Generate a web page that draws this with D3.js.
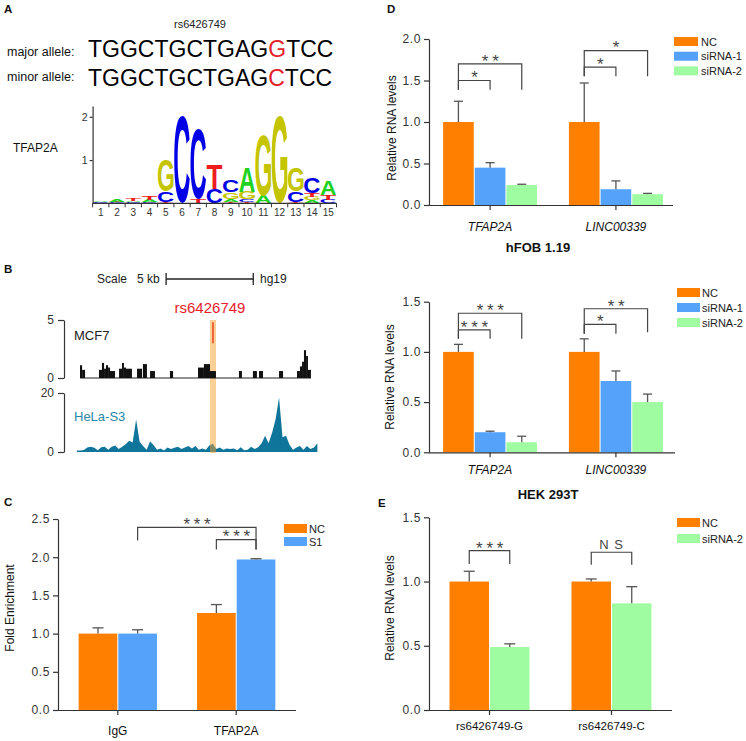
<!DOCTYPE html>
<html><head><meta charset="utf-8">
<script src="https://cdn.jsdelivr.net/npm/d3@7"></script>
<style>
body{margin:0;background:#fff}
svg{display:block}
text{font-family:"Liberation Sans",Arial,Helvetica,sans-serif}
</style>
</head><body>
<svg id="c" width="746" height="741"></svg>
<script>
// ================= DATA =================
// Panel A
const snpId = "rs6426749";
const alleleLabels = ["major allele:", "minor allele:"];
const alleleSeqs = ["TGGCTGCTGAGGTCC", "TGGCTGCTGAGCTCC"];
const snpIndex = 11;
const motifName = "TFAP2A";
const logoPositions = [1,2,3,4,5,6,7,8,9,10,11,12,13,14,15];
const logoTicks = [1, 2];
// stacked letters per column, bottom to top: [letter, bits]
const logoColumns = [
  [["G",0.01],["C",0.012],["A",0.012],["T",0.01]],
  [["C",0.02],["T",0.02],["A",0.045]],
  [["C",0.03],["A",0.03],["T",0.05]],
  [["C",0.02],["A",0.06],["T",0.08]],
  [["T",0.03],["C",0.25],["G",0.72]],
  [["C",2.0]],
  [["T",0.1],["C",1.62]],
  [["C",0.33],["T",0.57]],
  [["T",0.04],["A",0.05],["G",0.16],["C",0.26]],
  [["T",0.04],["C",0.06],["G",0.17],["A",0.57]],
  [["A",0.17],["G",1.4]],
  [["G",2.0]],
  [["T",0.02],["C",0.25],["G",0.54]],
  [["A",0.07],["G",0.08],["T",0.08],["C",0.35]],
  [["C",0.08],["T",0.12],["A",0.33]]
];
const letterColors = {A:"#1ed21e", C:"#0000e6", G:"#c4c400", T:"#ee1c1c"};

// Panel B (genomic positions in kb)
const scaleBarStartKb = 5.17, scaleBarKb = 5;
const snpKb = 7.86;
const mcf7Ticks = [0, 5];
const helaTicks = [0, 20];
// [startKb, endKb, signal]
const mcf7Segments = [
  [0.23,0.35,1.1],[0.35,0.52,0.7],
  [1.32,1.49,0.7],[1.49,1.61,1.3],[1.61,1.72,0.8],[1.72,1.84,1.1],[1.84,1.95,0.9],[1.95,2.24,0.6],
  [2.47,2.64,0.8],[2.64,2.75,1.3],[2.75,2.87,0.9],[2.87,3.21,0.8],
  [3.50,3.79,0.8],[3.84,4.07,1.2],
  [4.25,4.53,0.6],[5.39,5.57,0.6],
  [7.00,7.34,0.9],[7.34,7.69,1.2],[7.69,8.03,0.6],
  [9.35,9.52,0.6],[10.15,10.38,0.6],[10.50,10.73,0.6],[11.65,11.88,0.6],
  [12.68,12.85,0.6],[12.85,12.97,1.0],[12.97,13.08,1.4],[13.08,13.2,2.4],[13.2,13.31,1.9],[13.31,13.48,0.7]
];
const helaStartKb = 0.05, helaStepKb = 0.2;
const helaValues = [
  0.5,0.5,0.7,1.5,1.8,1.4,0.6,1.6,1.8,0.8,
  1.8,2.2,1.0,1.8,2.6,3.8,3.2,11.0,3.5,2.0,
  0.8,3.6,2.4,0.8,1.2,0.5,1.5,1.0,1.4,1.8,
  1.0,1.5,2.0,1.2,2.0,0.8,1.2,0.8,2.2,2.8,
  1.0,1.5,0.8,1.2,1.0,1.2,0.6,1.6,0.6,0.8,
  1.8,1.0,1.6,3.0,5.5,3.0,6.5,11.0,18.5,5.0,
  5.5,2.5,0.8,1.5,2.0,0.8,2.0,1.0,1.5,3.0
];

// Panel C
const cGroups = ["IgG", "TFAP2A"];
const cSeries = ["NC", "S1"];
const cValues = [[1.0, 1.0], [1.27, 1.97]];
const cErrors = [[0.075, 0.05], [0.11, 0.01]];
const cTicks = [0, 0.5, 1.0, 1.5, 2.0, 2.5];
const cBrackets = [
  {from:[0,1], to:[1,1], top:2.39, leftDrop:2.22, rightDrop:2.10, label:"* * *"},
  {from:[1,0], to:[1,1], top:2.23, leftDrop:2.10, rightDrop:2.10, label:"* * *"}
];

// Panel D
const dGroups = ["TFAP2A", "LINC00339"];
const dSeries = ["NC", "siRNA-1", "siRNA-2"];
const d1Values = [[1.0, 0.45, 0.24], [1.0, 0.19, 0.13]];
const d1Errors = [[0.25, 0.06, 0.01], [0.47, 0.10, 0.01]];
const d1Ticks = [0, 0.5, 1.0, 1.5, 2.0];
const d1Brackets = [
  {from:[0,0], to:[0,2], top:1.70, leftDrop:1.39, rightDrop:1.39, label:"* *"},
  {from:[0,0], to:[0,1], top:1.50, leftDrop:1.39, rightDrop:1.39, label:"*"},
  {from:[1,0], to:[1,2], top:1.86, leftDrop:1.55, rightDrop:1.55, label:"*"},
  {from:[1,0], to:[1,1], top:1.66, leftDrop:1.55, rightDrop:1.55, label:"*"}
];
const d1Title = "hFOB 1.19";
const d2Values = [[1.0, 0.20, 0.10], [1.0, 0.71, 0.50]];
const d2Errors = [[0.075, 0.01, 0.06], [0.13, 0.10, 0.08]];
const d2Ticks = [0, 0.5, 1.0, 1.5];
const d2Brackets = [
  {from:[0,0], to:[0,2], top:1.385, leftDrop:1.13, rightDrop:1.13, label:"* * *"},
  {from:[0,0], to:[0,1], top:1.22, leftDrop:1.13, rightDrop:1.13, label:"* * *"},
  {from:[1,0], to:[1,2], top:1.43, leftDrop:1.18, rightDrop:1.195, label:"* *"},
  {from:[1,0], to:[1,1], top:1.275, leftDrop:1.18, rightDrop:1.18, label:"*"}
];
const d2Title = "HEK 293T";

// Panel E
const eGroups = ["rs6426749-G", "rs6426749-C"];
const eSeries = ["NC", "siRNA-2"];
const eValues = [[1.0, 0.49], [1.0, 0.83]];
const eErrors = [[0.08, 0.025], [0.02, 0.13]];
const eTicks = [0, 0.5, 1.0, 1.5];
const eBrackets = [
  {from:[0,0], to:[0,1], top:1.24, leftDrop:1.137, rightDrop:1.137, label:"* * *"},
  {from:[1,0], to:[1,1], top:1.228, leftDrop:1.13, rightDrop:1.13, label:"N S"}
];

const seriesColors = {"NC":"#ff8000", "S1":"#55a2fb", "siRNA-1":"#55a2fb", "siRNA-2":"#a0fca0"};

// ================= DRAW =================
const svg = d3.select("#c");
const AX = "#333";

function panelLetter(t, x, y){
  svg.append("text").attr("x",x).attr("y",y).attr("font-weight","bold")
    .attr("font-size",11.5).attr("fill","#111").text(t);
}
function styleAxis(sel, fs){
  sel.selectAll("path,line").attr("stroke",AX).attr("stroke-width",1.2);
  sel.selectAll("text").attr("font-size",fs||12).attr("fill","#333")
    .attr("font-family","'Liberation Sans',Arial,sans-serif");
}

// ---------- Panel A ----------
panelLetter("A", 4, 13);
svg.append("text").attr("x",200).attr("y",27.5).attr("text-anchor","middle")
  .attr("font-size",11).attr("fill","#222").text(snpId);
const alleleLabelY = [56, 81], alleleSeqY = [57, 85.5];
alleleLabels.forEach((lab,i)=>{
  svg.append("text").attr("x",7).attr("y",alleleLabelY[i]).attr("font-size",12.5)
    .attr("fill","#111").text(lab);
  const t = svg.append("text").attr("x",88).attr("y",alleleSeqY[i]).attr("font-size",23).attr("fill","#000");
  alleleSeqs[i].split("").forEach((ch,j)=>{
    t.append("tspan").attr("fill", j===snpIndex ? "#e3202a" : "#000").text(ch);
  });
});
svg.append("text").attr("x",13).attr("y",151.5).attr("font-size",12).attr("fill","#111").text(motifName);

const lx = d3.scaleBand().domain(logoPositions).range([92.6, 336.5]);
const ly = d3.scaleLinear().domain([0, 2.25]).range([203.3, 106]);
const cv = document.createElement("canvas").getContext("2d");
cv.font = "bold 100px 'Liberation Sans', Arial, sans-serif";
const inkCache = {};
function ink(L){
  if(!inkCache[L]){
    const m = cv.measureText(L);
    inkCache[L] = {l:m.actualBoundingBoxLeft, r:m.actualBoundingBoxRight, a:m.actualBoundingBoxAscent, d:m.actualBoundingBoxDescent};
  }
  return inkCache[L];
}
const gLogo = svg.append("g");
logoColumns.forEach((col, ci)=>{
  let cum = 0;
  const pos = logoPositions[ci];
  const x = lx(pos) + 0.3, w = lx.bandwidth() - 0.6;
  col.forEach(([L, h])=>{
    const yb = ly(cum), yt = ly(cum + h);
    cum += h;
    const hh = yb - yt;
    if (hh <= 0) return;
    const m = ink(L);
    const sx = w / (m.l + m.r), sy = hh / (m.a + m.d);
    gLogo.append("text").attr("x",0).attr("y",0)
      .attr("font-size",100).attr("font-weight","bold").attr("fill",letterColors[L])
      .attr("transform",`translate(${x},${yt}) scale(${sx},${sy}) translate(${m.l},${m.a})`)
      .text(L);
  });
});
const lya = svg.append("g").attr("transform",`translate(${lx.range()[0]},0)`)
  .call(d3.axisLeft(ly).tickValues(logoTicks).tickFormat(d3.format("d")).tickSize(3).tickSizeOuter(0).tickPadding(2));
styleAxis(lya, 10.5);
// x axis of logo
const lxg = svg.append("g");
lxg.append("line").attr("x1",lx.range()[0]).attr("x2",lx.range()[1]).attr("y1",ly(0)).attr("y2",ly(0))
  .attr("stroke",AX).attr("stroke-width",1.2);
logoPositions.forEach(p=>{
  lxg.append("line").attr("x1",lx(p)+lx.bandwidth()).attr("x2",lx(p)+lx.bandwidth())
    .attr("y1",ly(0)).attr("y2",ly(0)+4).attr("stroke",AX).attr("stroke-width",1);
  lxg.append("text").attr("x",lx(p)+lx.bandwidth()/2).attr("y",216).attr("text-anchor","middle")
    .attr("font-size",10).attr("fill","#333").text(p);
});
lxg.append("line").attr("x1",lx.range()[0]).attr("x2",lx.range()[0]).attr("y1",ly(0)).attr("y2",ly(0)+4).attr("stroke",AX);

// ---------- Panel B ----------
panelLetter("B", 4, 272.5);
const gx = d3.scaleLinear().domain([0, 14]).range([76, 320]);
const gB = svg.append("g");
gB.append("text").attr("x",97).attr("y",282.5).attr("font-size",12).attr("fill","#222").text("Scale");
gB.append("text").attr("x",137).attr("y",282.5).attr("font-size",12).attr("fill","#222").text(scaleBarKb + " kb");
gB.append("text").attr("x",260).attr("y",282.5).attr("font-size",12).attr("fill","#222").text("hg19");
const sb0 = gx(scaleBarStartKb), sb1 = gx(scaleBarStartKb + scaleBarKb);
gB.append("line").attr("x1",sb0).attr("x2",sb1).attr("y1",279).attr("y2",279).attr("stroke","#222").attr("stroke-width",1.3);
[sb0, sb1].forEach(x=> gB.append("line").attr("x1",x).attr("x2",x).attr("y1",273).attr("y2",285).attr("stroke","#222").attr("stroke-width",1.3));

const my = d3.scaleLinear().domain([0,5]).range([378, 320]);
const hy = d3.scaleLinear().domain([0,20]).range([452, 393]);

// HeLa area
const helaArea = d3.area()
  .x((d,i)=>gx(helaStartKb + i*helaStepKb))
  .y0(hy(0)).y1(d=>hy(d));
gB.append("path").datum(helaValues).attr("d",helaArea).attr("fill","#10759a");

// highlight band
gB.append("rect").attr("x",gx(snpKb)-3).attr("width",6).attr("y",my(5)).attr("height",hy(0)+1-my(5))
  .attr("fill","#f7a22e").attr("opacity",0.5);

// MCF7
const mStart = d3.min(mcf7Segments, d=>d[0]), mEnd = d3.max(mcf7Segments, d=>d[1]);
gB.append("line").attr("x1",gx(mStart)).attr("x2",gx(mEnd)).attr("y1",my(0)).attr("y2",my(0))
  .attr("stroke","#222").attr("stroke-width",1.2);
gB.selectAll("rect.m").data(mcf7Segments).enter().append("rect")
  .attr("x",d=>gx(d[0])).attr("width",d=>gx(d[1])-gx(d[0]))
  .attr("y",d=>my(d[2])).attr("height",d=>my(0)-my(d[2])).attr("fill","#111");

// red SNP tick
gB.append("line").attr("x1",gx(snpKb)).attr("x2",gx(snpKb)).attr("y1",my(3.0)).attr("y2",my(4.8))
  .attr("stroke","#ee4422").attr("stroke-width",1.5);
gB.append("text").attr("x",gx(snpKb)-3).attr("y",313).attr("text-anchor","middle")
  .attr("font-size",15).attr("fill","#e8202a").text(snpId);

const ma = gB.append("g").attr("transform","translate(64,0)")
  .call(d3.axisLeft(my).tickValues(mcf7Ticks).tickFormat(d3.format("d")).tickSize(6).tickSizeOuter(0).tickPadding(4));
styleAxis(ma, 12);
const ha = gB.append("g").attr("transform","translate(64,0)")
  .call(d3.axisLeft(hy).tickValues(helaTicks).tickFormat(d3.format("d")).tickSize(6).tickSizeOuter(0).tickPadding(4));
styleAxis(ha, 12);
gB.append("text").attr("x",74).attr("y",340).attr("font-size",13).attr("fill","#222").text("MCF7");
gB.append("text").attr("x",74).attr("y",421).attr("font-size",13).attr("fill","#2a86a8").text("HeLa-S3");

// ---------- Bar panels ----------
function barPanel(p){
  const g = svg.append("g");
  const x0 = d3.scaleBand().domain(p.groups).range(p.xRange).paddingInner(p.padInner).paddingOuter(p.padOuter);
  const x1 = d3.scaleBand().domain(p.series).range([0, x0.bandwidth()]);
  const y = d3.scaleLinear().domain([0, p.yMax]).range([p.yBase, p.yTop]);
  const cx = (gi, si) => x0(p.groups[gi]) + x1(p.series[si]) + x1.bandwidth()/2;

  p.groups.forEach((gn, gi)=>{
    p.series.forEach((s, si)=>{
      const v = p.values[gi][si], e = p.errors[gi][si];
      const bx = x0(gn) + x1(s);
      g.append("rect").attr("x",bx+0.5).attr("width",x1.bandwidth()-1)
        .attr("y",y(v)).attr("height",y(0)-y(v)).attr("fill",seriesColors[s]);
      const c = cx(gi, si);
      g.append("line").attr("x1",c).attr("x2",c).attr("y1",y(v)).attr("y2",y(v+e))
        .attr("stroke","#555").attr("stroke-width",1.3);
      g.append("line").attr("x1",c-p.cap).attr("x2",c+p.cap).attr("y1",y(v+e)).attr("y2",y(v+e))
        .attr("stroke","#555").attr("stroke-width",1.3);
    });
  });

  const ya = g.append("g").attr("transform",`translate(${p.yAxisX},0)`)
    .call(d3.axisLeft(y).tickValues(p.yTicks).tickFormat(d3.format(".1f")).tickSize(5).tickSizeOuter(0).tickPadding(3));
  styleAxis(ya, 12);
  ya.selectAll("text").attr("letter-spacing",0.6);
  const xa = g.append("g").attr("transform",`translate(0,${p.yBase})`)
    .call(d3.axisBottom(x0).tickSize(5).tickSizeOuter(0).tickFormat(""));
  styleAxis(xa, 12);
  xa.select("path.domain").attr("d",`M${p.yAxisX},0.5H${p.xEnd}`);

  p.groups.forEach(gn=>{
    g.append("text").attr("x",x0(gn)+x0.bandwidth()/2).attr("y",p.xLabelY).attr("text-anchor","middle")
      .attr("font-size",p.xLabelSize).attr("font-style",p.italic?"italic":"normal").attr("fill","#111").text(gn);
  });
  g.append("text").attr("transform",`translate(${p.yLabel[0]},${p.yLabel[1]}) rotate(-90)`)
    .attr("text-anchor","middle").attr("font-size",12).attr("fill","#111").text(p.yLabel[2]);

  p.series.forEach((s, i)=>{
    const yy = p.legend.y + i*p.legend.step;
    g.append("rect").attr("x",p.legend.x).attr("y",yy).attr("width",p.legend.w).attr("height",p.legend.h)
      .attr("fill",seriesColors[s]);
    g.append("text").attr("x",p.legend.tx).attr("y",yy+p.legend.h/2+4).attr("font-size",11)
      .attr("fill","#222").text(s);
  });

  p.brackets.forEach(b=>{
    const xa1 = cx(b.from[0], b.from[1]), xa2 = cx(b.to[0], b.to[1]);
    g.append("path").attr("d",`M${xa1},${y(b.leftDrop)}V${y(b.top)}H${xa2}V${y(b.rightDrop)}`)
      .attr("fill","none").attr("stroke","#444").attr("stroke-width",1.2);
    const star = b.label.indexOf("*") >= 0;
    g.append("text").attr("x",(xa1+xa2)/2).attr("y", star ? y(b.top)+2.8 : y(b.top)-3)
      .attr("text-anchor","middle").attr("font-size", star ? 17 : 13)
      .attr("letter-spacing", star ? -0.5 : 1).attr("fill","#444").text(b.label);
  });
  return g;
}

// Panel C
panelLetter("C", 4, 506);
barPanel({groups:cGroups, series:cSeries, values:cValues, errors:cErrors,
  xRange:[58,296], xEnd:296, yAxisX:58, padInner:0.33, padOuter:0.17,
  yBase:710, yTop:519, yMax:2.5, yTicks:cTicks, cap:5.5,
  xLabelY:734.5, xLabelSize:12, italic:false,
  yLabel:[14, 608, "Fold Enrichment"],
  legend:{x:284, y:524, w:23, h:9, step:13, tx:309},
  brackets:cBrackets});

// Panel D top
panelLetter("D", 387, 13);
barPanel({groups:dGroups, series:dSeries, values:d1Values, errors:d1Errors,
  xRange:[430,676], xEnd:673, yAxisX:429, padInner:0.245, padOuter:0.1,
  yBase:205, yTop:39, yMax:2.0, yTicks:d1Ticks, cap:4.5,
  xLabelY:231, xLabelSize:12, italic:true,
  yLabel:[396, 128, "Relative RNA levels"],
  legend:{x:674, y:37, w:24, h:9, step:14.7, tx:701},
  brackets:d1Brackets});
svg.append("text").attr("x",538).attr("y",251.5).attr("text-anchor","middle")
  .attr("font-size",13).attr("font-weight","bold").attr("fill","#111").text(d1Title);

// Panel D bottom
barPanel({groups:dGroups, series:dSeries, values:d2Values, errors:d2Errors,
  xRange:[430,676], xEnd:675, yAxisX:429, padInner:0.245, padOuter:0.1,
  yBase:452.3, yTop:301.7, yMax:1.5, yTicks:d2Ticks, cap:4.5,
  xLabelY:474, xLabelSize:12, italic:true,
  yLabel:[394, 377, "Relative RNA levels"],
  legend:{x:677, y:288, w:23, h:9, step:15, tx:702},
  brackets:d2Brackets});
svg.append("text").attr("x",548).attr("y",498.5).attr("text-anchor","middle")
  .attr("font-size",13).attr("font-weight","bold").attr("fill","#111").text(d2Title);

// Panel E
panelLetter("E", 378, 507);
barPanel({groups:eGroups, series:eSeries, values:eValues, errors:eErrors,
  xRange:[429,672], xEnd:672, yAxisX:429, padInner:0.336, padOuter:0.164,
  yBase:710, yTop:517.3, yMax:1.5, yTicks:eTicks, cap:5.5,
  xLabelY:729.5, xLabelSize:11.5, italic:false,
  yLabel:[394, 608, "Relative RNA levels"],
  legend:{x:677, y:518, w:23, h:9, step:16, tx:702},
  brackets:eBrackets});
</script>
</body></html>
